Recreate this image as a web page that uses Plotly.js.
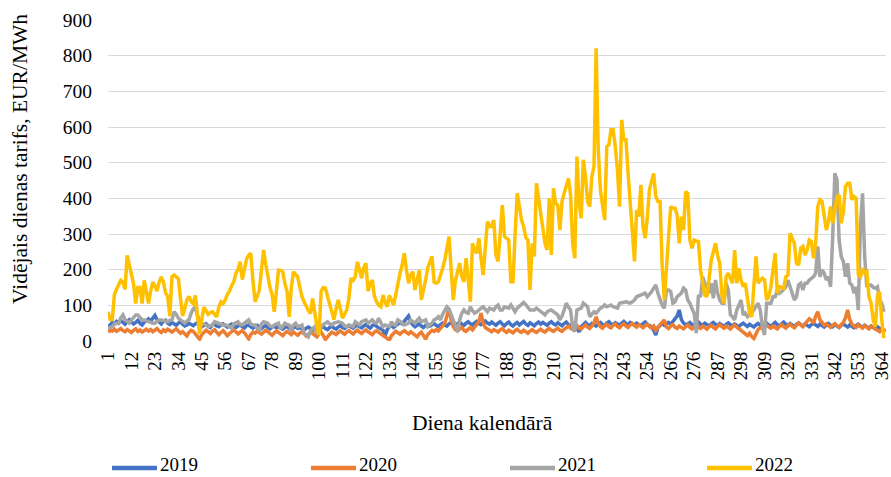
<!DOCTYPE html>
<html>
<head>
<meta charset="utf-8">
<script src="https://cdn.plot.ly/plotly-3.0.1.min.js"></script>
<style>html,body{margin:0;padding:0;background:#fff;}#chart{width:891px;height:477px;}</style>
</head>
<body>
<div id="chart"></div>
<script>
const seriesNames = ["2019", "2020", "2021", "2022"];
const tickDays = [1,12,23,34,45,56,67,78,89,100,111,122,133,144,155,166,177,188,199,210,221,232,243,254,265,276,287,298,309,320,331,342,353,364];

const y2019 = [
38,45,52,48,55,50,58,52,47,55,
60,54,48,52,58,50,45,53,57,62,
55,66,72,60,52,48,55,58,50,46,
52,48,44,50,55,47,42,45,50,46,
43,48,52,45,40,44,48,42,38,45,
47,42,40,45,48,43,39,44,47,41,
38,42,46,40,37,43,45,40,36,41,
44,39,35,40,43,38,34,39,42,37,
40,36,33,38,41,36,32,37,40,35,
38,34,31,36,39,35,30,36,38,34,
37,40,35,32,38,42,36,33,39,43,
38,35,40,44,39,36,41,45,40,37,
42,46,40,36,43,47,41,38,35,30,
15,32,40,44,38,42,47,52,48,55,
62,70,55,45,40,44,48,42,38,44,
47,42,45,49,44,40,46,50,45,42,
48,52,46,43,49,53,47,44,50,54,
48,45,51,55,49,46,52,56,50,47,
53,48,44,50,54,47,43,49,53,46,
42,48,52,45,50,55,48,44,51,46,
43,49,53,47,52,48,44,50,54,48,
45,51,47,43,49,53,46,42,48,44,
35,26,40,47,52,46,43,49,45,42,
48,52,46,43,50,54,48,45,51,47,
44,50,55,49,46,52,48,44,50,46,
43,49,53,47,44,40,30,17,38,45,
49,44,48,52,47,55,60,70,87,60,
50,45,48,52,46,43,49,53,47,44,
50,46,42,48,52,47,43,49,45,41,
47,51,46,42,48,44,40,46,50,45,
41,47,43,39,45,49,44,40,46,50,
45,41,47,52,46,42,48,53,47,43,
49,45,41,47,51,46,42,48,44,40,
46,50,45,41,47,43,39,45,49,44,
40,46,42,38,44,48,43,39,45,41,
37,43,47,42,38,44,40,36,42,38,
34,40,36,32,38
];

const y2020 = [
25,30,28,33,27,31,35,29,26,32,
28,24,30,34,27,31,25,29,33,28,
32,26,30,35,28,24,31,27,33,29,
25,30,34,28,22,26,20,14,24,30,
27,20,12,5,18,25,30,26,21,28,
32,25,18,24,29,22,15,21,27,31,
26,20,25,29,23,12,6,18,25,22,
28,24,19,25,30,26,21,16,23,28,
24,19,15,22,27,23,18,25,21,16,
22,26,20,14,19,24,21,17,12,20,
25,15,4,12,20,25,22,18,24,28,
23,19,25,29,24,20,26,30,25,21,
27,31,26,22,18,25,29,24,20,15,
10,5,3,15,22,27,23,19,25,29,
24,20,26,22,17,12,20,25,15,5,
18,25,30,27,32,28,35,40,50,70,
90,60,40,32,28,34,38,30,27,33,
37,31,40,48,55,78,50,38,34,30,
26,32,29,25,31,35,28,24,30,27,
23,29,33,27,24,30,26,22,28,32,
27,24,29,33,28,25,31,35,30,27,
32,36,30,27,33,38,42,36,32,38,
43,37,33,40,45,39,35,42,50,68,
50,40,36,43,47,40,37,44,48,41,
37,44,48,42,38,45,49,43,39,46,
41,37,43,47,40,36,42,30,38,45,
50,59,40,35,42,46,39,35,42,38,
34,40,45,38,34,41,45,39,35,42,
37,33,40,44,38,34,41,46,40,36,
42,38,34,40,45,39,35,30,25,20,
15,22,12,7,20,32,38,35,41,45,
40,36,42,38,34,41,46,40,36,43,
47,41,37,44,50,45,40,48,55,62,
58,50,70,82,60,50,44,48,42,38,
44,49,43,39,46,52,65,87,60,48,
42,38,45,40,36,43,38,34,41,37,
33,30,26,35,31,28
];

const y2021 = [
36,38,40,48,50,50,65,73,60,55,
50,59,66,73,73,65,59,59,56,54,
52,50,50,55,59,59,57,54,54,58,
59,82,75,64,60,56,50,56,60,78,
90,96,70,59,50,47,45,40,43,45,
54,52,50,46,45,45,44,40,36,48,
52,54,46,45,50,55,59,48,45,45,
35,31,48,54,52,50,42,40,45,48,
50,33,40,50,46,45,31,45,50,40,
42,45,21,18,12,28,35,40,21,30,
40,46,50,54,48,45,50,52,54,52,
50,42,40,45,42,40,54,48,45,54,
56,59,50,55,59,52,50,64,50,40,
45,42,40,54,46,45,59,55,50,45,
47,50,59,55,50,58,64,54,56,59,
40,45,50,59,62,68,59,75,87,96,
90,73,55,45,26,60,78,87,80,78,
96,85,78,82,88,92,96,88,82,92,
90,87,96,101,87,87,96,94,92,101,
92,82,92,98,101,108,102,94,87,87,
87,92,88,82,78,73,82,85,87,82,
78,73,59,70,87,106,95,87,40,26,
87,90,92,106,100,96,68,75,82,78,
85,92,95,101,96,98,101,96,94,92,
106,108,110,110,108,106,110,115,124,126,
129,132,134,124,130,138,148,157,134,115,
100,92,143,143,138,106,110,124,130,134,
148,143,115,106,90,78,22,129,124,180,
162,148,134,162,120,171,134,115,106,106,
162,143,73,68,59,87,100,115,73,78,
68,73,80,87,96,106,87,40,17,106,
106,106,124,124,143,134,138,145,152,171,
152,134,115,124,157,162,143,162,162,171,
175,180,190,265,180,199,190,171,180,152,
293,470,452,283,237,223,180,218,162,157,
134,152,87,321,414,237,152,157,157,150,
148,152,115,106,82
];

const y2022 = [
82,60,60,130,145,160,170,165,145,240,
215,195,160,105,150,150,105,170,140,105,
140,165,155,140,165,180,165,135,125,70,
180,185,180,175,120,70,90,115,125,110,
105,128,70,20,60,95,85,75,80,82,
75,68,95,110,105,115,130,140,155,165,
190,200,222,172,200,230,240,246,170,110,
125,143,200,255,215,180,150,130,82,140,
199,198,194,160,140,68,150,194,188,180,
150,124,110,96,85,77,119,80,40,17,
140,150,148,125,105,80,60,90,115,90,
64,75,87,120,176,170,180,222,200,176,
205,218,140,160,171,125,110,100,96,129,
110,96,128,115,101,130,166,190,213,246,
200,162,185,194,143,175,199,115,140,171,
205,220,237,165,162,166,190,204,227,255,
293,200,115,170,199,218,180,166,232,176,
110,274,255,246,288,232,185,260,335,321,
321,339,241,223,300,381,293,288,283,166,
166,300,414,377,340,321,290,283,143,274,
237,442,400,372,330,274,255,400,241,428,
386,381,311,391,414,440,456,410,274,232,
517,386,344,508,461,391,377,461,489,821,
536,424,380,339,545,550,592,592,545,480,
377,620,564,564,470,386,274,223,367,349,
438,321,288,344,424,452,470,405,391,391,
209,115,220,293,377,372,372,353,274,349,
311,419,414,283,260,283,280,279,199,160,
129,124,180,227,250,274,240,218,129,106,
180,190,175,162,255,162,204,171,152,162,
120,78,68,152,237,162,170,176,171,115,
124,152,199,246,134,152,150,148,180,185,
302,288,274,218,213,260,265,241,255,283,
279,232,274,377,396,391,349,311,335,377,
330,370,405,410,330,363,433,442,442,396,
405,400,185,180,204,190,194,124,106,59,
40,129,138,60,8
];

const colors = ["#4472C4", "#ED7D31", "#A5A5A5", "#FFC000"];
const allY = [y2019, y2020, y2021, y2022];

const traces = allY.map((ys, i) => ({
  type: "scatter",
  mode: "lines",
  name: seriesNames[i],
  x: ys.map((_, k) => k + 1),
  y: ys,
  line: {color: colors[i], width: 3.5, shape: "linear"},
  hoverinfo: "skip"
}));

const font = "Liberation Serif";
const L = 108, W = 778, T = 20, H = 321;
const px = (x) => (x - L) / W;
const py = (y) => (T + H - y) / H;

const layout = {
  width: 891, height: 477,
  margin: {l: L, r: 891 - L - W, t: T, b: 477 - T - H},
  paper_bgcolor: "#fff", plot_bgcolor: "#fff",
  font: {family: font, size: 19, color: "#000"},
  showlegend: false,
  xaxis: {
    range: [1, 366],
    tickmode: "array",
    tickvals: tickDays,
    ticktext: tickDays.map(String),
    tickangle: -90,
    tickfont: {family: font, size: 19, color: "#000"},
    showgrid: false,
    zeroline: false,
    showline: false,
    ticks: "",
    ticklabelstandoff: 6,
    ticklabeloverflow: "allow",
    automargin: false
  },
  yaxis: {
    range: [0, 900],
    tickmode: "array",
    tickvals: [0,100,200,300,400,500,600,700,800,900],
    tickfont: {family: font, size: 19.5, color: "#000"},
    showgrid: true,
    gridcolor: "#D9D9D9",
    gridwidth: 1,
    zeroline: false,
    showline: false,
    ticks: "",
    ticklabelstandoff: 15,
    automargin: false
  },
  shapes: [],
  annotations: [
    {text: "Vidējais dienas tarifs, EUR/MWh", xref: "paper", yref: "paper",
     x: px(20), y: py(159), xanchor: "center", yanchor: "middle", textangle: -90,
     showarrow: false, font: {family: font, size: 21.5, color: "#000"}},
    {text: "Diena kalendārā", xref: "paper", yref: "paper",
     x: px(482), y: py(423), xanchor: "center", yanchor: "middle",
     showarrow: false, font: {family: font, size: 21.5, color: "#000"}}
  ]
};

// legend drawn as line samples + text labels
const legendLineStart = [112, 311, 510, 707];
const legendLineY = 468;
const legendTextY = 464;
seriesNames.forEach((name, i) => {
  const x0 = legendLineStart[i];
  layout.shapes.push({
    type: "line", xref: "paper", yref: "paper",
    x0: px(x0), x1: px(x0 + 45), y0: py(legendLineY), y1: py(legendLineY),
    line: {color: colors[i], width: 4.5}
  });
  layout.annotations.push({
    text: name, xref: "paper", yref: "paper",
    x: px(x0 + 47), y: py(legendTextY), xanchor: "left", yanchor: "middle",
    borderpad: 0,
    showarrow: false, font: {family: font, size: 19, color: "#000"}
  });
});

Plotly.newPlot("chart", traces, layout, {staticPlot: true, displayModeBar: false});
</script>
</body>
</html>
